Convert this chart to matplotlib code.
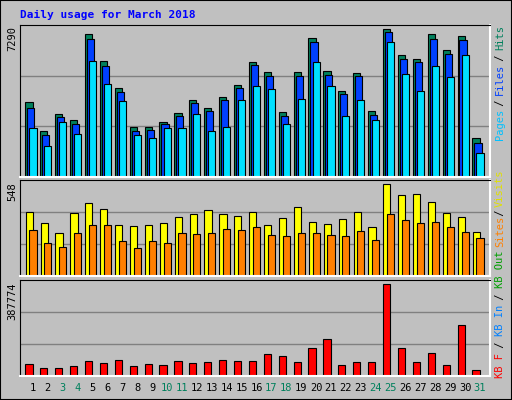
import matplotlib
matplotlib.use("Agg")
import matplotlib.pyplot as plt
import numpy as np

days = list(range(1, 32))
weekend = [3, 4, 10, 11, 17, 18, 24, 25, 31]

hits = [3670, 2282, 3125, 2827, 7043, 5704, 4365, 2480, 2480, 2728, 3174, 3770, 3422, 3918, 4514, 5654,
        5158, 3224, 5158, 6845, 5208, 4216, 5109, 3274, 7290, 6002, 5803, 7043, 6250, 6944, 1934]
files = [3422, 2083, 2976, 2629, 6795, 5456, 4166, 2282, 2331, 2629, 3026, 3621, 3274, 3770, 4365, 5506,
         4960, 3026, 4960, 6646, 5010, 4067, 4960, 3075, 7142, 5803, 5654, 6795, 6051, 6746, 1686]
pages = [2430, 1538, 2728, 2133, 5704, 4563, 3720, 2083, 1934, 2430, 2430, 3125, 2282, 2480, 3770, 4464,
         4315, 2629, 3819, 5654, 4464, 3026, 3770, 2827, 6646, 5059, 4216, 5456, 4910, 6002, 1190]
visits = [381, 316, 256, 375, 435, 399, 304, 298, 304, 316, 352, 370, 393, 370, 358, 381,
          304, 346, 411, 322, 310, 340, 381, 292, 548, 483, 489, 441, 375, 352, 262]
sites = [274, 197, 173, 256, 304, 304, 209, 167, 209, 197, 256, 250, 256, 280, 274, 292,
         244, 238, 256, 256, 244, 238, 268, 215, 370, 334, 316, 322, 292, 262, 226]
kbytes = [50580, 33720, 33720, 42150, 63225, 54795, 67440, 42150, 50580, 46365, 63225, 54795, 59010,
          67440, 63225, 63225, 92730, 84300, 59010, 118020, 155955, 46365, 59010, 59010, 387774,
          118020, 59010, 96945, 46365, 214965, 25290]

BG = "#c0c0c0"
mono = "DejaVu Sans Mono"
W, H = 512, 400

fig = plt.figure(figsize=(5.12, 4.0), dpi=100, facecolor=BG)
x = np.array(days)


def panel(top, bottom):
    ax = fig.add_axes([20 / W, 1 - bottom / H, 470 / W, (bottom - top) / H])
    ax.set_facecolor(BG)
    ax.set_xlim(0.13, 31.67)
    ax.set_xticks([])
    ax.set_yticks([])
    for s in ("left", "top"):
        ax.spines[s].set_color("black")
    for s in ("right", "bottom"):
        ax.spines[s].set_color("white")
        ax.spines[s].set_linewidth(1.5)
    return ax


def grid(ax, ymax):
    for f in (1 / 3, 2 / 3):
        ax.axhline(ymax * f, color="#808080", lw=1, zorder=0)


kw = dict(width=0.48, edgecolor="black", linewidth=0.8, zorder=2)

ax1 = panel(25, 177)
ym1 = max(hits) * 152 / 148
ax1.set_ylim(0, ym1)
grid(ax1, ym1)
ax1.bar(x - 0.27, hits, color="#00805c", **kw)
ax1.bar(x - 0.14, files, color="#0040ff", **kw)
ax1.bar(x + 0.0, pages, color="#00e0ff", **kw)

ax2 = panel(180, 276)
ym2 = max(visits) * 96 / 92
ax2.set_ylim(0, ym2)
grid(ax2, ym2)
ax2.bar(x - 0.25, visits, color="#ffff00", **kw)
ax2.bar(x + 0.0, sites, color="#ff8000", **kw)

ax3 = panel(280, 376)
ym3 = max(kbytes) * 96 / 92
ax3.set_ylim(0, ym3)
grid(ax3, ym3)
ax3.bar(x - 0.27, kbytes, color="#ff0000", **kw)

# day labels
for d in days:
    fig.text((20 + (d - 0.13) * 470 / 31.54) / W, 1 - 388 / H, str(d), ha="center", va="center",
             family=mono, fontsize=7.5, color="#00805c" if d in weekend else "black")

# max labels
for txt, y in ((str(max(hits)), 26), (str(max(visits)), 182), (str(max(kbytes)), 282)):
    fig.text(12 / W, 1 - y / H, txt, rotation=90, ha="center", va="top", family=mono, fontsize=7.5)

fig.text(20 / W, 1 - 15 / H, "Daily usage for March 2018", color="#0000ff", family=mono,
         fontsize=8, fontweight="bold", va="center")


def side(parts, ybottom, step):
    pos = 0
    for t, c in parts:
        fig.text(500 / W, 1 - (ybottom - pos * step) / H, t, rotation=90, ha="center", va="bottom",
                 family=mono, fontsize=7.5, color=c)
        pos += len(t)


side([("Pages", "#00c0ff"), (" / ", "black"), ("Files", "#0040ff"), (" / ", "black"),
      ("Hits", "#00805c")], 140, 5.6)
side([("Sites", "#ff8000"), (" / ", "black"), ("Visits", "#e0e000")], 247, 5.0)
side([("KB F", "#ff0000"), (" / ", "black"), ("KB In", "#0080ff"), (" / ", "black"),
      ("KB Out", "#00a000")], 378, 6.0)

# outer frame
frame = fig.add_axes([0, 0, 1, 1], facecolor="none")
frame.set_xticks([])
frame.set_yticks([])
frame.set_zorder(-1)
for s in frame.spines.values():
    s.set_color("black")
    s.set_linewidth(1.5)

fig.savefig("out.png", dpi=100, facecolor=BG)
